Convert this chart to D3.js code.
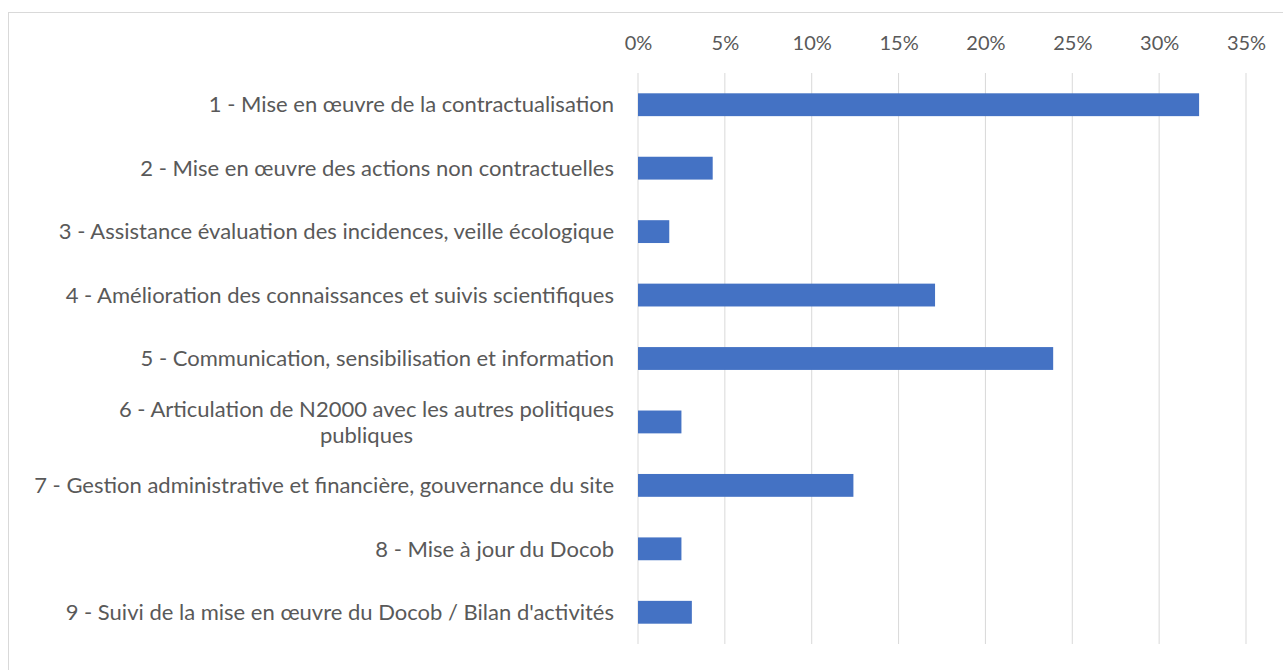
<!DOCTYPE html>
<html>
<head>
<meta charset="utf-8">
<script src="https://cdn.jsdelivr.net/npm/d3@7"></script>
<style>
  body { margin: 0; background: #fff; }
  svg text { font-family: Lato, "Open Sans", sans-serif; fill: #595959; }
</style>
</head>
<body>
<svg id="chart" width="1283" height="670"></svg>
<script>
// Data ("\n" marks where the label wraps)
const categories = [
    "1 - Mise en œuvre de la contractualisation",
    "2 - Mise en œuvre des actions non contractuelles",
    "3 - Assistance évaluation des incidences, veille écologique",
    "4 - Amélioration des connaissances et suivis scientifiques",
    "5 - Communication, sensibilisation et information",
    "6 - Articulation de N2000 avec les autres politiques\npubliques",
    "7 - Gestion administrative et financière, gouvernance du site",
    "8 - Mise à jour du Docob",
    "9 - Suivi de la mise en œuvre du Docob / Bilan d'activités"
];
const values = [0.323, 0.043, 0.018, 0.171, 0.239, 0.025, 0.124, 0.025, 0.031];
const ticks = [0, 0.05, 0.10, 0.15, 0.20, 0.25, 0.30, 0.35];

const svg = d3.select("#chart");
const margin = {top: 73, right: 37, bottom: 26, left: 638};
const width = +svg.attr("width"), height = +svg.attr("height");

// chart border
svg.append("rect")
    .attr("x", 8.5).attr("y", 12.5)
    .attr("width", width).attr("height", height)
    .attr("fill", "none").attr("stroke", "#d9d9d9");

const x = d3.scaleLinear().domain([0, 0.35]).range([margin.left, width - margin.right]);
const y = d3.scaleBand().domain(categories)
    .range([margin.top, height - margin.bottom])
    .paddingInner(0.64).paddingOuter(0.32);

// gridlines
svg.append("g")
    .selectAll("line")
    .data(ticks)
    .join("line")
    .attr("x1", d => x(d)).attr("x2", d => x(d))
    .attr("y1", margin.top).attr("y2", height - margin.bottom)
    .attr("stroke", "#d9d9d9").attr("stroke-width", 1);

// top axis labels
const xAxis = svg.append("g")
    .attr("transform", `translate(0,${margin.top})`)
    .call(d3.axisTop(x).tickValues(ticks).tickFormat(d3.format(".0%")).tickSize(0).tickPadding(23));
xAxis.select(".domain").remove();
xAxis.selectAll("text").attr("font-size", 20).attr("font-family", null).style("fill", "#595959");

// bars
svg.append("g")
    .selectAll("rect")
    .data(values)
    .join("rect")
    .attr("x", x(0))
    .attr("y", (d, i) => y(categories[i]))
    .attr("width", d => x(d) - x(0))
    .attr("height", y.bandwidth())
    .attr("fill", "#4472c4");

// category labels: right-aligned block, wrapped lines centred on the first line
const labelRight = margin.left - 24;
const lab = svg.append("g").attr("font-size", 22);
categories.forEach(c => {
    const cy = y(c) + y.bandwidth() / 2;
    const lines = c.split("\n");
    if (lines.length === 1) {
        lab.append("text").attr("text-anchor", "end").attr("x", labelRight)
            .attr("y", cy).attr("dy", "0.35em").text(c);
        return;
    }
    const probe = lab.append("text").text(lines[0]);
    const w0 = probe.node().getComputedTextLength();
    probe.remove();
    const centerX = labelRight - w0 / 2;
    const lh = 26;
    lines.forEach((l, i) => {
        lab.append("text").attr("text-anchor", "middle").attr("x", centerX)
            .attr("y", cy + (i - (lines.length - 1) / 2) * lh).attr("dy", "0.35em").text(l);
    });
});
</script>
</body>
</html>
